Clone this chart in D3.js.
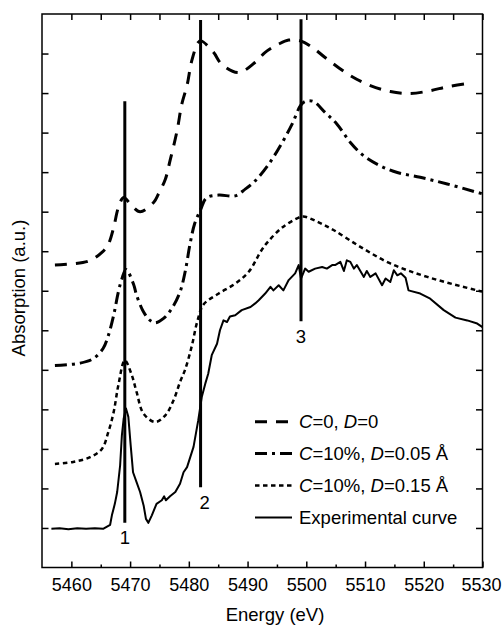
<!DOCTYPE html>
<html>
<head>
<meta charset="utf-8">
<script src="https://cdn.jsdelivr.net/npm/d3@7"></script>
<style>
  html, body { margin: 0; padding: 0; background: #fff; }
  svg { display: block; font-family: "Liberation Sans", Arial, sans-serif; }
</style>
</head>
<body>
<svg id="chart" width="502" height="626"></svg>
<script>
// ---------- data ----------
const xTicks = [5460, 5470, 5480, 5490, 5500, 5510, 5520, 5530];
const xMinorTicks = [5465, 5475, 5485, 5495, 5505, 5515, 5525];
const yTicks = [1, 2, 3, 4, 5, 6, 7, 8, 9, 10, 11, 12, 13];

// C=0, D=0 (dashed)
const c0E = [5457.2, 5462.9, 5465.2, 5466.3, 5467.2, 5468.0, 5468.9, 5470.3, 5471.7, 5474.0,
             5474.8, 5476.0, 5476.8, 5478.0, 5478.8, 5479.7, 5480.5, 5481.6, 5482.1, 5484.2,
             5485.6, 5488.5, 5491.3, 5493.0, 5495.3, 5497.0, 5499.0, 5501.0, 5503.2, 5507.5,
             5510.9, 5514.3, 5517.7, 5521.1, 5524.0, 5527.4];
const c0V = [7.65, 7.75, 7.97, 8.18, 8.6, 9.1, 9.36, 9.15, 9.0, 9.23,
             9.44, 9.82, 10.29, 11.05, 11.72, 12.2, 12.82, 13.28, 13.32, 13.03,
             12.73, 12.52, 12.78, 13.03, 13.24, 13.34, 13.32, 13.16, 12.9, 12.44,
             12.19, 12.04, 11.99, 12.06, 12.16, 12.24];

// C=10%, D=0.05 Å (dash-dot)
const c10aE = [5457.2, 5461.5, 5463.7, 5465.4, 5466.3, 5467.2, 5468.0, 5468.6, 5469.3, 5470.6,
               5471.1, 5472.3, 5473.4, 5474.3, 5475.7, 5477.1, 5478.5, 5479.4, 5480.2, 5481.0,
               5482.0, 5483.0, 5485.1, 5487.9, 5489.6, 5491.3, 5493.6, 5495.9, 5497.6, 5499.0,
               5499.8, 5501.2, 5503.2, 5505.2, 5507.5, 5509.8, 5512.6, 5515.5, 5519.4, 5524.0,
               5530.0];
const c10aV = [5.11, 5.17, 5.28, 5.54, 5.87, 6.38, 6.97, 7.3, 7.54, 7.16,
               6.89, 6.46, 6.25, 6.19, 6.3, 6.55, 6.97, 7.5, 8.18, 8.7,
               9.05, 9.35, 9.42, 9.4, 9.57, 9.78, 10.2, 10.75, 11.22, 11.68,
               11.79, 11.79, 11.51, 11.22, 10.75, 10.41, 10.16, 9.99, 9.87, 9.70,
               9.45];

// C=10%, D=0.15 Å (dotted)
const c10bE = [5457.2, 5460.3, 5463.2, 5465.2, 5466.3, 5467.2, 5468.0, 5469.1, 5470.3, 5471.1,
               5472.3, 5474.3, 5476.0, 5477.4, 5478.5, 5479.4, 5480.5, 5481.4, 5482.5, 5485.1,
               5487.9, 5490.2, 5492.4, 5493.6, 5495.9, 5498.7, 5499.5, 5502.1, 5504.7, 5509.2,
               5514.3, 5520.6, 5529.1, 5530.0];
const c10bV = [2.62, 2.67, 2.79, 3.0, 3.43, 3.93, 4.61, 5.24, 4.86, 4.44,
               3.89, 3.68, 3.85, 4.23, 4.69, 5.02, 5.6, 6.2, 6.65, 6.93,
               7.18, 7.48, 8.03, 8.26, 8.6, 8.85, 8.88, 8.73, 8.53, 8.11,
               7.69, 7.35, 7.01, 6.98];

// Experimental curve (solid)
const expE = [5456.6, 5458, 5459.5, 5461, 5462.5, 5464, 5465.4, 5466.6, 5466.9, 5467.4,
              5467.8, 5468.3, 5468.6, 5468.9, 5469.3, 5469.7, 5470.1, 5470.5, 5471.1, 5471.7,
              5472.3, 5472.7, 5473.1, 5473.7, 5474.5, 5475.4, 5475.8, 5476.1, 5476.8, 5477.7,
              5478.5, 5479.1, 5479.7, 5480.8, 5481.6, 5482.2, 5482.8, 5483.3, 5483.9, 5484.8,
              5485.3, 5485.9, 5486.5, 5487.0, 5487.9, 5489.0, 5490.5, 5491.3, 5491.9, 5493.0,
              5493.9, 5494.4, 5495.3, 5496.1, 5497.0, 5498.1, 5498.7, 5499.1, 5499.8, 5500.4,
              5501.5, 5502.7, 5503.5, 5504.4, 5504.9, 5505.8, 5506.4, 5506.9, 5507.5, 5508.1,
              5508.6, 5509.8, 5510.3, 5510.9, 5511.8, 5512.9, 5513.5, 5514.3, 5514.9, 5515.5,
              5516.1, 5516.9, 5517.4, 5519.4, 5521.1, 5523.4, 5525.4, 5527.4, 5529.1, 5530.0];
const expV = [0.98, 0.99, 0.97, 0.99, 0.98, 0.99, 0.98, 1.08, 1.32, 1.61,
              1.91, 2.58, 3.34, 3.76, 4.02, 3.81, 3.09, 2.41, 2.16, 1.91,
              1.57, 1.23, 1.13, 1.32, 1.61, 1.70, 1.8, 1.70, 1.8, 1.91,
              2.12, 2.41, 2.54, 3.05, 3.72, 4.31, 4.65, 4.9, 5.37, 5.66,
              6.0, 6.25, 6.21, 6.35, 6.38, 6.51, 6.59, 6.68, 6.76, 6.93,
              7.1, 7.01, 7.14, 7.01, 7.27, 7.44, 7.65, 7.31, 7.56, 7.48,
              7.56, 7.6, 7.56, 7.65, 7.65, 7.73, 7.5, 7.77, 7.73, 7.56,
              7.65, 7.35, 7.5, 7.35, 7.44, 7.14, 7.31, 7.22, 7.52, 7.39,
              7.44, 7.33, 7.01, 6.93, 6.8, 6.51, 6.32, 6.25, 6.17, 6.08];

// vertical feature markers
const markerE = [5469.1, 5482.0, 5499.1];
const markerTop = [11.79, 13.85, 13.87];
const markerBottom = [1.13, 2.03, 6.23];
const markerLabels = ["1", "2", "3"];

const legendLabels = [
  [["C", true], ["=0, ", false], ["D", true], ["=0", false]],
  [["C", true], ["=10%, ", false], ["D", true], ["=0.05 Å", false]],
  [["C", true], ["=10%, ", false], ["D", true], ["=0.15 Å", false]],
  [["Experimental curve", false]]
];

// ---------- layout ----------
const L = 42, R = 482.5, T = 14, B = 567.5;
const svg = d3.select("#chart");
const x = d3.scaleLinear().domain([5455, 5530]).range([L, R]);
const y = d3.scaleLinear().domain([0, 14]).range([B, T]);
const FS = 18.5;

// axes
function styleAxis(g) {
  g.select(".domain").remove();
  g.selectAll(".tick line").attr("stroke", "#000").attr("stroke-width", 1.5);
  g.selectAll("text").attr("font-size", 18).attr("fill", "#000")
    .attr("font-family", '"Liberation Sans", Arial, sans-serif');
}
const xAxisG = svg.append("g").attr("transform", `translate(0,${B})`)
  .call(d3.axisBottom(x).tickValues(xTicks).tickFormat(d3.format("d")).tickSize(-6).tickPadding(10.5))
  .call(styleAxis);
// keep the last label inside the page
xAxisG.selectAll(".tick text").filter(d => d === xTicks[xTicks.length - 1]).attr("dx", -1.5);
svg.append("g").attr("transform", `translate(0,${B})`)
  .call(d3.axisBottom(x).tickValues(xMinorTicks).tickFormat("").tickSize(-3))
  .call(styleAxis);
svg.append("g").attr("transform", `translate(0,${T})`)
  .call(d3.axisTop(x).tickValues(xTicks.concat(xMinorTicks)).tickFormat("").tickSize(-6))
  .call(styleAxis);
svg.append("g").attr("transform", `translate(${L},0)`)
  .call(d3.axisLeft(y).tickValues(yTicks).tickFormat("").tickSize(-6.5))
  .call(styleAxis);
svg.append("g").attr("transform", `translate(${R},0)`)
  .call(d3.axisRight(y).tickValues(yTicks).tickFormat("").tickSize(-6.5))
  .call(styleAxis);

// frame
svg.append("rect").attr("x", L).attr("y", T).attr("width", R - L).attr("height", B - T)
  .attr("fill", "none").attr("stroke", "#000").attr("stroke-width", 1.5);

// axis titles
svg.append("text").attr("x", 275).attr("y", 621).attr("text-anchor", "middle")
  .attr("font-size", FS).text("Energy (eV)");
svg.append("text").attr("transform", "translate(25,288) rotate(-90)").attr("text-anchor", "middle")
  .attr("font-size", FS).text("Absorption (a.u.)");

// series
const styles = [
  { E: c0E, V: c0V, w: 3, dash: "12,9", curve: d3.curveCatmullRom.alpha(0.5) },
  { E: c10aE, V: c10aV, w: 3, dash: "12,5,3,5", curve: d3.curveCatmullRom.alpha(0.5) },
  { E: c10bE, V: c10bV, w: 2.5, dash: "4.5,3.5", curve: d3.curveCatmullRom.alpha(0.5) },
  { E: expE, V: expV, w: 2, dash: null, curve: d3.curveLinear }
];
styles.forEach(s => {
  const pts = s.E.map((e, i) => [e, s.V[i]]);
  const line = d3.line().x(d => x(d[0])).y(d => y(d[1])).curve(s.curve);
  svg.append("path").datum(pts).attr("d", line)
    .attr("fill", "none").attr("stroke", "#000").attr("stroke-width", s.w)
    .attr("stroke-dasharray", s.dash).attr("stroke-linejoin", "round");
});

// markers
markerE.forEach((e, i) => {
  svg.append("line").attr("x1", x(e)).attr("x2", x(e))
    .attr("y1", y(markerTop[i])).attr("y2", y(markerBottom[i]))
    .attr("stroke", "#000").attr("stroke-width", 3);
  svg.append("text").attr("x", x(e) + (i === 1 ? 4 : 0)).attr("y", y(markerBottom[i]) + 21.5)
    .attr("text-anchor", "middle").attr("font-size", FS).text(markerLabels[i]);
});

// legend
const legY0 = 421.7, legStep = 31.9, lx1 = 255, lx2 = 292, tx = 299;
legendLabels.forEach((parts, i) => {
  const s = styles[i];
  const yy = legY0 + i * legStep;
  svg.append("line").attr("x1", lx1).attr("x2", lx2).attr("y1", yy).attr("y2", yy)
    .attr("stroke", "#000").attr("stroke-width", s.w).attr("stroke-dasharray", s.dash);
  const t = svg.append("text").attr("x", tx).attr("y", yy + 6.5).attr("font-size", FS);
  parts.forEach(p => {
    t.append("tspan").attr("font-style", p[1] ? "italic" : "normal").text(p[0]);
  });
});
</script>
</body>
</html>
